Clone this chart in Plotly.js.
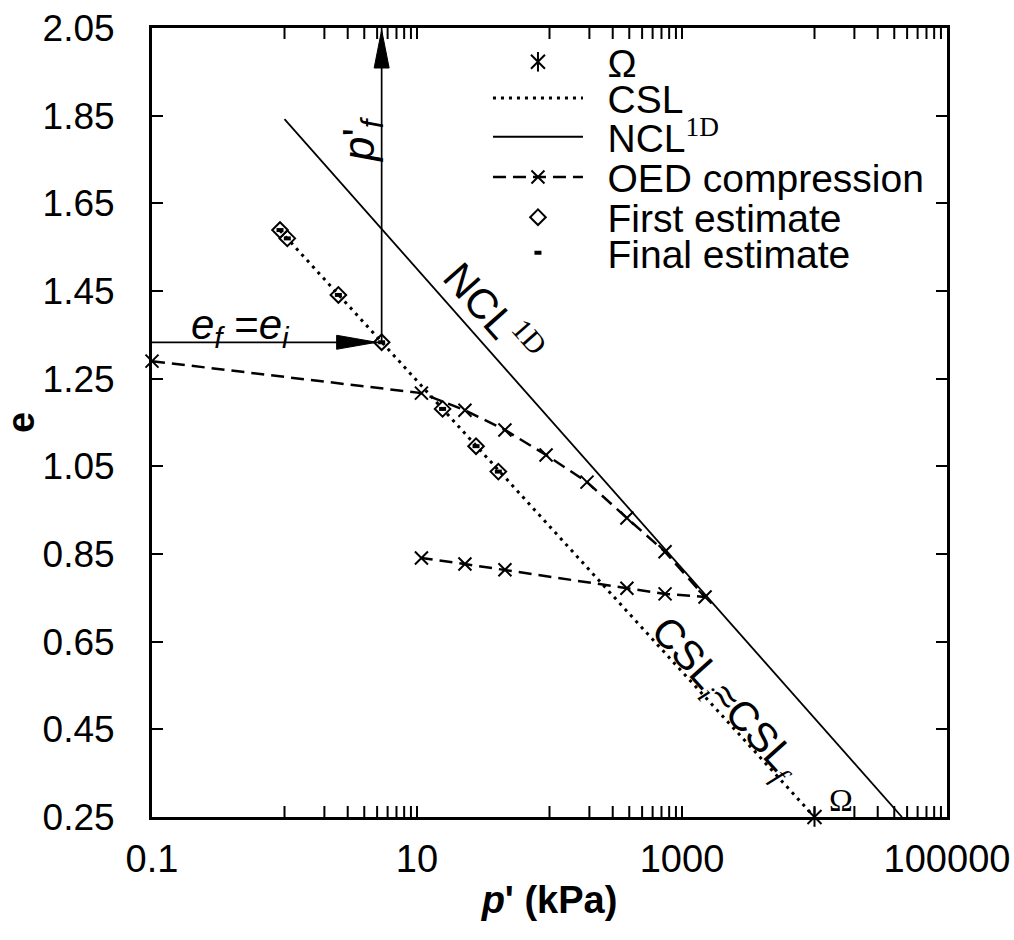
<!DOCTYPE html>
<html>
<head>
<meta charset="utf-8">
<script src="https://cdn.plot.ly/plotly-3.0.1.min.js"></script>
<style>
  html, body { margin: 0; padding: 0; background: #fff; }
  #chart { width: 1014px; height: 940px; }
</style>
</head>
<body>
<div id="chart"></div>
<script>
// Mean effective stress p' (kPa) and void ratio e

// Omega point (end of the critical state line)
const omegaP = [10000];
const omegaE = [0.25];

// Critical state line
const cslP = [0.925, 10000];
const cslE = [1.588, 0.25];

// One-dimensional normal compression line
const nclP = [1, 45700];
const nclE = [1.842, 0.25];

// Oedometer compression: loading then unloading
const oedP = [0.1, 10.8, 23.0, 46.1, 94.2, 192, 384, 745, 1493, 745, 384, 46.1, 23.0, 10.8];
const oedE = [1.290, 1.217, 1.178, 1.133, 1.076, 1.014, 0.932, 0.855, 0.752, 0.759, 0.772, 0.814, 0.827, 0.841];

// First and final estimates of the state on the CSL
const firstP = [0.925, 1.05, 2.55, 5.41, 15.6, 27.9, 41.1];
const firstE = [1.589, 1.570, 1.441, 1.333, 1.181, 1.096, 1.038];
const finalP = [0.925, 1.05, 2.55, 5.41, 15.6, 27.9, 41.1];
const finalE = [1.589, 1.570, 1.441, 1.333, 1.181, 1.096, 1.038];

// Axis ticks: labelled every two decades, unlabelled ticks in between
const xLabelVals = [0.1, 10, 1000, 100000];
const xLabelText = ['0.1', '10', '1000', '100000'];
const xTickMarks = [1, 2, 3, 4, 5, 6, 7, 8, 9,
                    10, 100, 200, 300, 400, 500, 600, 700, 800, 900,
                    1000, 10000, 20000, 30000, 40000, 50000, 60000, 70000, 80000, 90000];
const yTickVals = [0.25, 0.45, 0.65, 0.85, 1.05, 1.25, 1.45, 1.65, 1.85, 2.05];
const yTickText = ['0.25', '0.45', '0.65', '0.85', '1.05', '1.25', '1.45', '1.65', '1.85', '2.05'];

const xRange = [0.1, 100000];
const yRange = [0.25, 2.05];

// The example state marked by the two arrows
const pF = firstP[3];
const eF = firstE[3];

const SANS = 'Liberation Sans, Arial, sans-serif';
const SERIF = 'Liberation Serif, Times New Roman, serif';
const INK = '#000000';
const PAD = '\u2002';
const TICK_LEN = 11;

const traces = [
  {
    x: cslP, y: cslE, mode: 'lines', name: PAD + 'CSL', legend: 'legend2',
    line: {color: INK, width: 3, dash: '3px,5px'}
  },
  {
    x: nclP, y: nclE, mode: 'lines', name: PAD + 'NCL<sup><span style="font-family:' + SERIF + '">1D</span></sup>',
    legend: 'legend3',
    line: {color: INK, width: 1.8}
  },
  {
    x: oedP, y: oedE, mode: 'lines+markers', name: PAD + 'OED compression', legend: 'legend4',
    line: {color: INK, width: 2.5, dash: '13px,7px'},
    marker: {symbol: 'x-thin-open', size: 13, color: INK, line: {color: INK, width: 2}},
    cliponaxis: false
  },
  {
    x: firstP, y: firstE, mode: 'markers', name: PAD + 'First estimate', legend: 'legend5',
    marker: {symbol: 'diamond-open', size: 12, color: INK, line: {color: INK, width: 2}}
  },
  {
    x: finalP, y: finalE, mode: 'markers', name: PAD + 'Final estimate', legend: 'legend6',
    marker: {symbol: 'line-ew-open', size: 5, color: INK, line: {color: INK, width: 4}}
  },
  // arrows: e_f = e_i (horizontal) and p'_f (vertical)
  {
    x: [xRange[0], pF], y: [eF, eF], mode: 'lines', showlegend: false, hoverinfo: 'skip',
    line: {color: INK, width: 1.7}
  },
  {
    x: [pF, pF], y: [eF, yRange[1]], mode: 'lines', showlegend: false, hoverinfo: 'skip',
    line: {color: INK, width: 1.7}
  },
  // Omega marker: a cross with a vertical stroke through it
  {
    x: omegaP, y: omegaE, mode: 'markers', name: PAD + '\u03A9', legend: 'legend',
    marker: {symbol: 'x-thin-open', size: 14, color: INK, line: {color: INK, width: 2}},
    cliponaxis: false
  },
  {
    x: omegaP, y: omegaE, mode: 'markers', name: PAD, legend: 'legend7',
    marker: {symbol: 'line-ns-open', size: 14, color: INK, line: {color: INK, width: 2}},
    cliponaxis: false
  }
];

const LEG_X = 0.4226;
const LEG_FONT = {family: SANS, size: 39, color: INK};
function legendAt(y) {
  return {
    x: LEG_X, y: y, xanchor: 'left', yanchor: 'middle',
    bgcolor: 'rgba(0,0,0,0)', borderwidth: 0,
    font: LEG_FONT, itemwidth: 90, itemclick: false, itemdoubleclick: false
  };
}

const axisCommon = {
  showline: true, linewidth: 3, linecolor: INK, mirror: 'ticks',
  ticks: 'inside', ticklen: TICK_LEN, tickwidth: 2, tickcolor: INK,
  showgrid: false, zeroline: false, automargin: false
};

// Short inward tick marks along the bottom and top edges of the log axis
function edgeTick(p, atTop) {
  return {
    type: 'path', xref: 'x', yref: 'y', xsizemode: 'pixel', ysizemode: 'pixel',
    xanchor: p, yanchor: atTop ? yRange[1] : yRange[0],
    path: atTop ? 'M0,0 L0,-' + TICK_LEN : 'M0,0 L0,' + TICK_LEN,
    line: {color: INK, width: 2}, layer: 'above'
  };
}
const tickShapes = xTickMarks.map(p => edgeTick(p, false))
  .concat(xTickMarks.map(p => edgeTick(p, true)));

const layout = {
  width: 1014, height: 940,
  margin: {l: 152, r: 67, t: 28, b: 123},
  paper_bgcolor: '#ffffff', plot_bgcolor: '#ffffff',
  font: {family: SANS, color: INK, size: 30},
  showlegend: true,
  xaxis: Object.assign({}, axisCommon, {
    type: 'log', range: xRange.map(Math.log10),
    tickmode: 'array', tickvals: xLabelVals, ticktext: xLabelText,
    tickfont: {family: SANS, size: 38, color: INK},
    ticklabelstandoff: 6,
    title: {text: '<b><i>p</i>\' (kPa)</b>', font: {family: SANS, size: 38, color: INK}, standoff: 8}
  }),
  yaxis: Object.assign({}, axisCommon, {
    range: yRange,
    tickmode: 'array', tickvals: yTickVals, ticktext: yTickText,
    tickfont: {family: SANS, size: 37, color: INK},
    ticklabelstandoff: 27,
    title: {text: PAD + '<b>e</b>', font: {family: SANS, size: 38, color: INK}, standoff: 20}
  }),
  legend: legendAt(0.957),
  legend2: legendAt(0.911),
  legend3: legendAt(0.862),
  legend4: legendAt(0.811),
  legend5: legendAt(0.760),
  legend6: legendAt(0.715),
  legend7: legendAt(0.957),
  shapes: tickShapes.concat([
    // arrowhead pointing right, tip just left of the marked state
    {
      type: 'path', xref: 'x', yref: 'y', xsizemode: 'pixel', ysizemode: 'pixel',
      xanchor: pF, yanchor: eF,
      path: 'M-5,0 L-45,7 L-45,-7 Z',
      fillcolor: INK, line: {color: INK, width: 1}
    },
    // arrowhead pointing up at the top axis
    {
      type: 'path', xref: 'x', yref: 'y', xsizemode: 'pixel', ysizemode: 'pixel',
      xanchor: pF, yanchor: yRange[1],
      path: 'M0,-2 L-7.5,-40 L7.5,-40 Z',
      fillcolor: INK, line: {color: INK, width: 1}
    }
  ]),
  annotations: [
    {
      xref: 'paper', yref: 'paper', x: 0.1107, y: 0.6198, xanchor: 'center', yanchor: 'middle',
      text: '<i>e<sub>f</sub></i> =<i>e<sub>i</sub></i>', showarrow: false,
      font: {family: SANS, size: 42, color: INK}
    },
    {
      xref: 'paper', yref: 'paper', x: 0.2642, y: 0.858, xanchor: 'center', yanchor: 'middle',
      text: '<i>p</i>\'<sub><i>f</i></sub>', textangle: -90, showarrow: false,
      font: {family: SANS, size: 44, color: INK}
    },
    {
      xref: 'paper', yref: 'paper', x: 0.4300, y: 0.6400, xanchor: 'center', yanchor: 'middle',
      text: 'NCL<sup><span style="font-family:' + SERIF + '">1D</span></sup>', textangle: 48.5, showarrow: false,
      font: {family: SANS, size: 42, color: INK}
    },
    {
      xref: 'paper', yref: 'paper', x: 0.7208, y: 0.1483, xanchor: 'center', yanchor: 'middle',
      text: 'CSL<sub><span style="font-family:' + SERIF + '"><i>i</i></span></sub>\u2248CSL<sub><span style="font-family:' + SERIF + '"><i>f</i></span></sub>',
      textangle: 48, showarrow: false,
      font: {family: SANS, size: 41, color: INK}
    },
    {
      xref: 'x', yref: 'y', x: Math.log10(omegaP[0]), y: omegaE[0], xshift: 26, yshift: 17,
      xanchor: 'center', yanchor: 'middle',
      text: '\u03A9', showarrow: false,
      font: {family: SERIF, size: 32, color: INK}
    }
  ]
};

Plotly.newPlot('chart', traces, layout, {staticPlot: true, displayModeBar: false});
</script>
</body>
</html>
